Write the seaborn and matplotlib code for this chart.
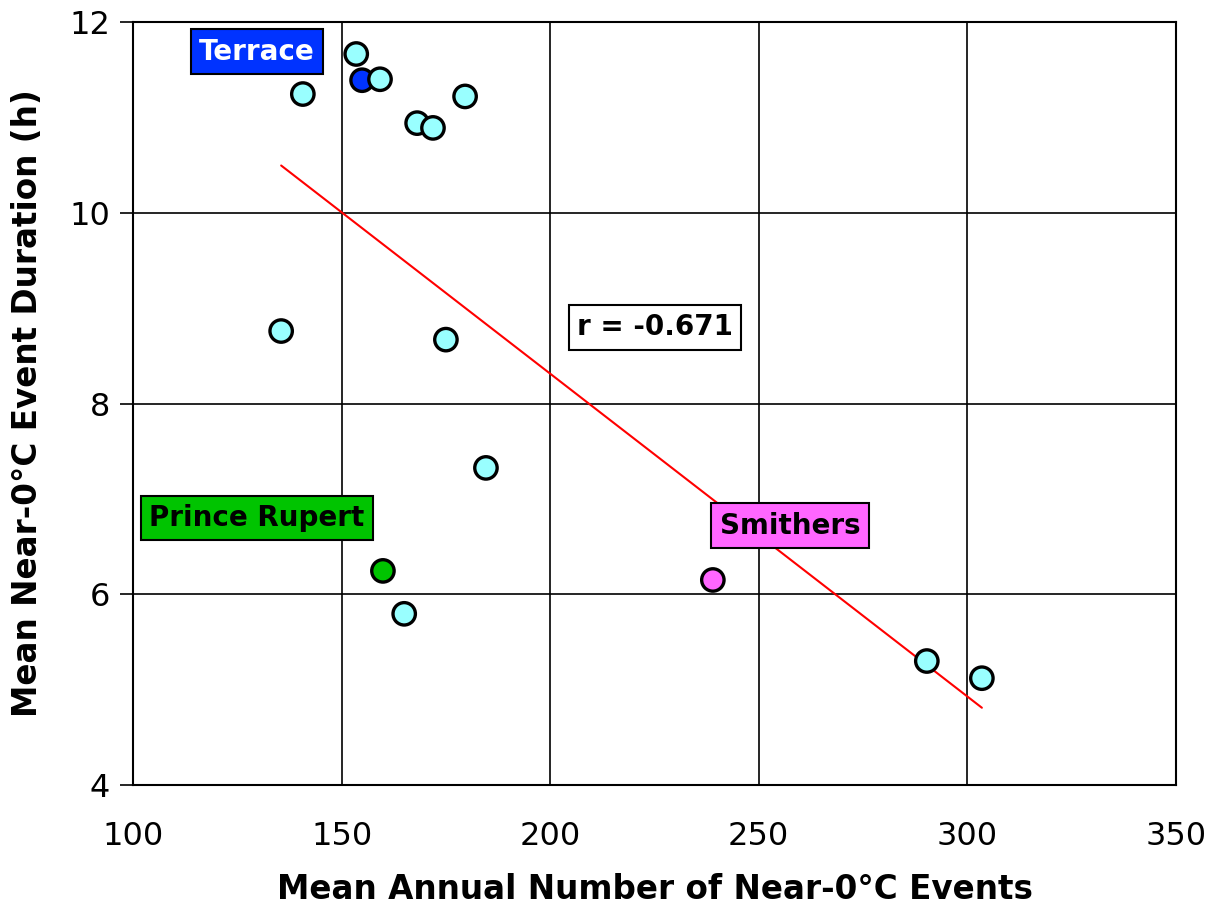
import numpy as np
import pandas as pd
import seaborn as sns
import matplotlib
matplotlib.use("Agg")
import matplotlib.pyplot as plt

# Station means: annual count of near-0 °C events vs. mean event duration
events = [135.5, 140.7, 153.5, 154.9, 159.2, 168.1, 171.9, 179.6,
          175.0, 184.6, 159.9, 165.0, 239.0, 290.3, 303.5]
duration = [8.76, 11.245, 11.665, 11.39, 11.40, 10.94, 10.89, 11.22,
            8.67, 7.325, 6.245, 5.795, 6.15, 5.30, 5.12]
station = ["other", "other", "other", "Terrace", "other", "other", "other", "other",
           "other", "other", "Prince Rupert", "other", "Smithers", "other", "other"]

palette = {"other": "#99FFFF", "Terrace": "#0033FF",
           "Prince Rupert": "#00C400", "Smithers": "#FF66FF"}

x_ticks = [100, 150, 200, 250, 300, 350]
y_ticks = [4, 6, 8, 10, 12]
r_text = "r = -0.671"

df = pd.DataFrame({"events": events, "duration": duration, "station": station})

sns.set_theme(style="white")
plt.rcParams["font.family"] = ["DejaVu Sans"]
plt.rcParams["text.color"] = "black"
plt.rcParams["axes.labelcolor"] = "black"
plt.rcParams["xtick.color"] = "black"
plt.rcParams["ytick.color"] = "black"

fig = plt.figure(figsize=(12.21, 9.07), dpi=100)
ax = fig.add_axes([0.109, 0.1345, 0.854, 0.8412])

# Least-squares fit across the range of the stations
slope, intercept = np.polyfit(df["events"], df["duration"], 1)
xfit = np.array([df["events"].min(), df["events"].max()])
ax.plot(xfit, slope * xfit + intercept, color="red", lw=1.5, zorder=2)

sns.scatterplot(data=df, x="events", y="duration", hue="station", palette=palette,
                s=260, edgecolor="black", linewidth=2.4, legend=False, ax=ax, zorder=3)

ax.set_xlim(100, 350)
ax.set_ylim(4, 12)
ax.set_xticks(x_ticks)
ax.set_yticks(y_ticks)
ax.grid(True, color="black", lw=1.2)
ax.set_axisbelow(True)
for sp in ax.spines.values():
    sp.set_color("black")
    sp.set_linewidth(1.5)
ax.tick_params(axis="x", length=0, pad=26, labelsize=23)
ax.tick_params(axis="y", length=9.5, width=1.2, color="black", left=True, pad=7, labelsize=23)

ax.set_xlabel("Mean Annual Number of Near-0°C Events", fontsize=23.5, fontweight="bold", labelpad=15)
ax.set_ylabel("Mean Near-0°C Event Duration (h)", fontsize=23.5, fontweight="bold", labelpad=18)

box = dict(boxstyle="square,pad=0.3", lw=1.5, ec="black")
ax.text(129.7, 11.69, "Terrace", ha="center", va="center", fontsize=20, fontweight="bold",
        color="white", bbox=dict(box, fc="#0033FF"), zorder=4)
ax.text(129.7, 6.80, "Prince Rupert", ha="center", va="center", fontsize=20, fontweight="bold",
        color="black", bbox=dict(box, fc="#00C400"), zorder=4)
ax.text(257.5, 6.72, "Smithers", ha="center", va="center", fontsize=20, fontweight="bold",
        color="black", bbox=dict(box, fc="#FF66FF"), zorder=4)
ax.text(225.1, 8.80, r_text, ha="center", va="center", fontsize=20, fontweight="bold",
        color="black", bbox=dict(box, fc="white"), zorder=4)

fig.savefig("out.png", dpi=100)
